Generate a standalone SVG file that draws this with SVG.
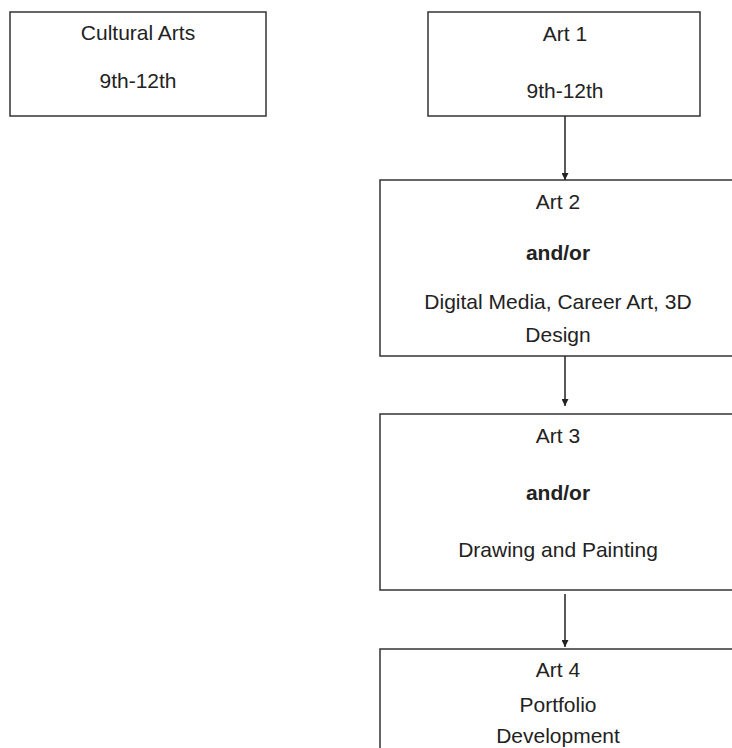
<svg xmlns="http://www.w3.org/2000/svg" width="732" height="748" viewBox="0 0 732 748">
<defs>
<style>
.box{fill:#fff;stroke:#333;stroke-width:1.5}
text{font-family:"Liberation Sans",Arial,sans-serif;font-size:21px;fill:#222;text-anchor:middle}
.b{font-weight:bold}
.conn{stroke:#222;stroke-width:1.5;fill:none}
</style>
<marker id="arr" viewBox="0 0 10 10" refX="10" refY="5" markerWidth="7" markerHeight="7" markerUnits="userSpaceOnUse" orient="auto">
<path d="M0,0 L10,5 L0,10 z" fill="#222"/>
</marker>
</defs>
<rect width="732" height="748" fill="#fff"/>
<g id="cultural-arts">
<rect class="box" x="10" y="12" width="256" height="104"/>
<text x="138" y="40">Cultural Arts</text>
<text x="138" y="88">9th-12th</text>
</g>
<g id="art1">
<rect class="box" x="428" y="12" width="272" height="104"/>
<text x="565" y="41">Art 1</text>
<text x="565" y="98">9th-12th</text>
</g>
<g id="art2">
<rect class="box" x="380" y="180" width="356" height="176"/>
<text x="558" y="209">Art 2</text>
<text class="b" x="558" y="260">and/or</text>
<text x="558" y="309">Digital Media, Career Art, 3D</text>
<text x="558" y="342">Design</text>
</g>
<g id="art3">
<rect class="box" x="380" y="414" width="356" height="176"/>
<text x="558" y="443">Art 3</text>
<text class="b" x="558" y="500">and/or</text>
<text x="558" y="557">Drawing and Painting</text>
</g>
<g id="art4">
<rect class="box" x="380" y="649" width="356" height="120"/>
<text x="558" y="677">Art 4</text>
<text x="558" y="712">Portfolio</text>
<text x="558" y="743">Development</text>
</g>
<g id="connectors">
<line class="conn" x1="565" y1="116" x2="565" y2="180" marker-end="url(#arr)"/>
<line class="conn" x1="565" y1="356" x2="565" y2="406" marker-end="url(#arr)"/>
<line class="conn" x1="565" y1="594" x2="565" y2="647" marker-end="url(#arr)"/>
</g>
</svg>
